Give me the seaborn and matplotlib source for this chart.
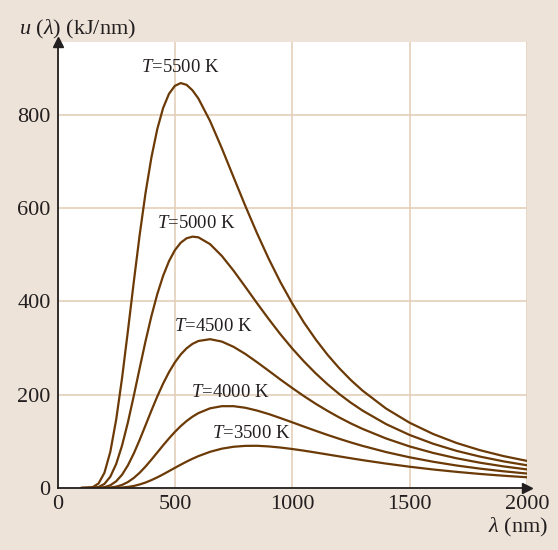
# Planck black-body curves u(lambda) for five temperatures, redrawn with seaborn.
import pandas as pd
import matplotlib
matplotlib.use("Agg")
import matplotlib.pyplot as plt
from matplotlib.ticker import MultipleLocator
import seaborn as sns

# wavelength samples (nm)
wavelength = [100, 150, 175, 200, 225, 250, 275, 300, 325, 350, 375, 400, 425, 450, 475,
              500, 525, 550, 575, 600, 650, 700, 750, 800, 850, 900, 950, 1000, 1050,
              1100, 1150, 1200, 1250, 1300, 1400, 1500, 1600, 1700, 1800, 1900, 2000]

# u(lambda) in kJ/nm for each temperature
u_5500 = [0.0, 1.8, 9.8, 32.7, 77.6, 146.6, 235.6, 337.0, 441.9, 542.5, 632.5, 708.5,
          769.3, 814.7, 845.0, 862.1, 868.0, 864.2, 852.5, 835.1, 786.6, 728.3, 666.3,
          604.8, 546.0, 491.1, 440.9, 395.7, 354.6, 318.4, 285.8, 256.9, 231.2, 208.5,
          170.2, 139.9, 115.8, 96.5, 81.0, 68.4, 58.1]
u_5000 = [0.0, 0.3, 2.2, 8.8, 24.3, 51.5, 91.1, 140.9, 197.6, 256.8, 314.7, 368.3,
          415.5, 454.9, 486.3, 509.8, 525.9, 535.3, 538.8, 537.4, 522.7, 497.5, 465.9,
          431.3, 396.1, 362.0, 329.3, 299.0, 271.2, 245.7, 222.5, 201.5, 182.7, 165.8,
          136.9, 113.7, 94.9, 79.6, 67.3, 57.1, 48.7]
u_4500 = [0.0, 0.0, 0.4, 1.8, 5.9, 14.4, 28.5, 48.7, 74.0, 103.2, 134.4, 165.9,
          196.1, 223.9, 248.4, 269.3, 286.3, 299.5, 309.0, 315.1, 319.0, 313.9, 302.6,
          287.4, 269.7, 251.2, 232.4, 214.3, 196.9, 180.5, 165.4, 151.3, 138.3, 126.6,
          106.1, 89.1, 75.2, 63.7, 54.2, 46.3, 39.8]
u_4000 = [0.0, 0.0, 0.0, 0.2, 1.0, 2.9, 6.6, 12.8, 21.5, 32.7, 46.0, 60.7,
          76.1, 91.5, 106.3, 120.2, 132.7, 143.6, 152.9, 160.5, 170.8, 175.4, 175.4,
          172.0, 166.0, 158.5, 149.8, 140.8, 131.6, 122.6, 113.8, 105.5, 97.6, 90.2,
          77.0, 65.8, 56.3, 48.2, 41.5, 35.8, 31.0]
u_3500 = [0.0, 0.0, 0.0, 0.0, 0.1, 0.4, 1.0, 2.3, 4.4, 7.6, 11.7, 16.9,
          22.8, 29.3, 36.2, 43.2, 50.0, 56.6, 62.7, 68.3, 77.6, 84.3, 88.4,
          90.3, 90.5, 89.1, 86.7, 83.6, 80.0, 76.0, 71.9, 67.8, 63.7, 59.7,
          52.3, 45.6, 39.7, 34.6, 30.1, 26.3, 23.0]

temperatures = [5500, 5000, 4500, 4000, 3500]
curves = [u_5500, u_5000, u_4500, u_4000, u_3500]

# where the "T = ... K" labels sit (lambda, u)
label_pos = [(524, 901), (590, 566), (665, 347), (735, 204), (824, 116)]

# long-form table for seaborn
df = pd.concat([
    pd.DataFrame({"wavelength": wavelength, "u": u, "T": t})
    for t, u in zip(temperatures, curves)
])

sns.set_style("white")
plt.rcParams["font.family"] = ["Liberation Serif", "DejaVu Serif"]
plt.rcParams["mathtext.fontset"] = "custom"
plt.rcParams["mathtext.rm"] = "Liberation Serif"
plt.rcParams["mathtext.it"] = "Liberation Serif:italic"

bg = "#ede3d8"
grid_c = "#e3cfb9"
brown = "#6b3a06"
ink = "#231f20"

fig = plt.figure(figsize=(5.58, 5.50), dpi=100, facecolor=bg)
ax = fig.add_axes([57.5 / 558, 62 / 550, 469.5 / 558, 445.5 / 550])
ax.set_facecolor("white")

sns.lineplot(data=df, x="wavelength", y="u", hue="T", palette=[brown] * 5,
             linewidth=1.6, legend=False, ax=ax, zorder=3)

ax.set_xlim(0, 2000)
ax.set_ylim(0, 955)
ax.xaxis.set_major_locator(MultipleLocator(500))
ax.yaxis.set_major_locator(MultipleLocator(200))
ax.xaxis.set_minor_locator(MultipleLocator(100))
ax.yaxis.set_minor_locator(MultipleLocator(50))
ax.grid(True, which="major", color=grid_c, linewidth=1.2, zorder=0)
ax.tick_params(which="major", length=0, labelsize=16, colors=ink)
ax.tick_params(axis="x", which="major", pad=5)
ax.tick_params(axis="y", which="major", pad=5)
ax.tick_params(which="minor", direction="in", length=5, width=1.0, color=grid_c)
ax.set_xlabel("")
ax.set_ylabel("")

for side in ["top", "right"]:
    ax.spines[side].set_visible(False)
for side in ["left", "bottom"]:
    ax.spines[side].set_color(ink)
    ax.spines[side].set_linewidth(1.3)
    ax.spines[side].set_zorder(4)

# arrow heads on the axes
ax.plot(1, 0, ">", color=ink, markersize=7, transform=ax.transAxes, clip_on=False, zorder=5)
ax.plot(0, 1, "^", color=ink, markersize=7, transform=ax.transAxes, clip_on=False, zorder=5)

for t, (lx, ly) in zip(temperatures, label_pos):
    ax.text(lx, ly, "$T$=%d K" % t, ha="center", va="center", fontsize=13.5, color=ink)

fig.text(19 / 558, 1 - 29.5 / 550, r"$u$ ($\lambda$) (kJ/nm)", ha="left", va="center",
         fontsize=16, color=ink)
fig.text(548 / 558, 1 - 527 / 550, r"$\lambda$ (nm)", ha="right", va="center",
         fontsize=16, color=ink)

fig.savefig("out.png", dpi=100, facecolor=bg)
